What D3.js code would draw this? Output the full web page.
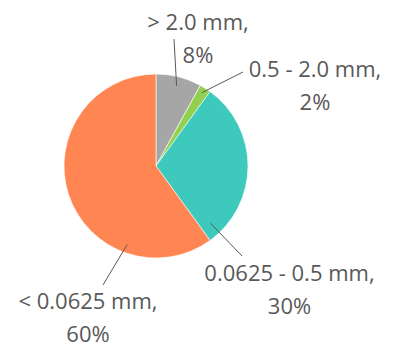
<!DOCTYPE html>
<html>
<head>
<meta charset="utf-8">
<script src="https://cdn.jsdelivr.net/npm/d3@7"></script>
<style>
  body { margin: 0; background: #fff; }
  svg { display: block; }
</style>
</head>
<body>
<div id="chart"></div>
<script>
const categories = ["> 2.0 mm", "0.5 - 2.0 mm", "0.0625 - 0.5 mm", "< 0.0625 mm"];
const values = [8, 2, 30, 60];
const colors = ["#a6a6a6", "#92d050", "#3dc9bc", "#ff8553"];

// label layout: leader start (fraction through slice, radius factor), leader end & text offsets from centre
const labelLayout = [
  { t: 0.5,  rf: 0.9,  end: [18, -127], text: [42, -136.5] },
  { t: 0.45, rf: 0.94, end: [87, -94],  text: [159, -89] },
  { t: 0.93, rf: 0.86, end: [86, 90],   text: [133.5, 115] },
  { t: 0.26, rf: 0.91, end: [-53, 119], text: [-68, 143] }
];

const width = 394, height = 343;
const cx = 156, cy = 166, radius = 92;
const fontFamily = "'Open Sans', 'Noto Sans', sans-serif";
const textColor = "#595959";

const svg = d3.select("#chart").append("svg")
  .attr("width", width)
  .attr("height", height);

const g = svg.append("g").attr("transform", `translate(${cx},${cy})`);

const data = categories.map((c, i) => ({ category: c, value: values[i], color: colors[i] }));

const pie = d3.pie().sort(null).value(d => d.value);
const arcs = pie(data);
const arc = d3.arc().innerRadius(0).outerRadius(radius);

g.selectAll("path.slice")
  .data(arcs)
  .join("path")
  .attr("class", "slice")
  .attr("d", arc)
  .attr("fill", d => d.data.color)
  .attr("stroke", "#fff")
  .attr("stroke-width", 0.6);

const total = d3.sum(values);

// leader lines
g.selectAll("line.leader")
  .data(arcs)
  .join("line")
  .attr("class", "leader")
  .each(function(d, i) {
    const L = labelLayout[i];
    const a = d.startAngle + (d.endAngle - d.startAngle) * L.t;
    const r = radius * L.rf;
    d3.select(this)
      .attr("x1", Math.sin(a) * r)
      .attr("y1", -Math.cos(a) * r)
      .attr("x2", L.end[0])
      .attr("y2", L.end[1]);
  })
  .attr("stroke", textColor)
  .attr("stroke-width", 1);

// labels
const labels = g.selectAll("text.label")
  .data(arcs)
  .join("text")
  .attr("class", "label")
  .attr("x", (d, i) => labelLayout[i].text[0])
  .attr("y", (d, i) => labelLayout[i].text[1])
  .attr("text-anchor", "middle")
  .attr("fill", textColor)
  .style("font-size", "22px")
  .style("font-family", fontFamily);

labels.append("tspan")
  .attr("x", (d, i) => labelLayout[i].text[0])
  .text(d => d.data.category + ",");

labels.append("tspan")
  .attr("x", (d, i) => labelLayout[i].text[0])
  .attr("dy", 33)
  .text(d => Math.round(d.data.value / total * 100) + "%");
</script>
</body>
</html>
